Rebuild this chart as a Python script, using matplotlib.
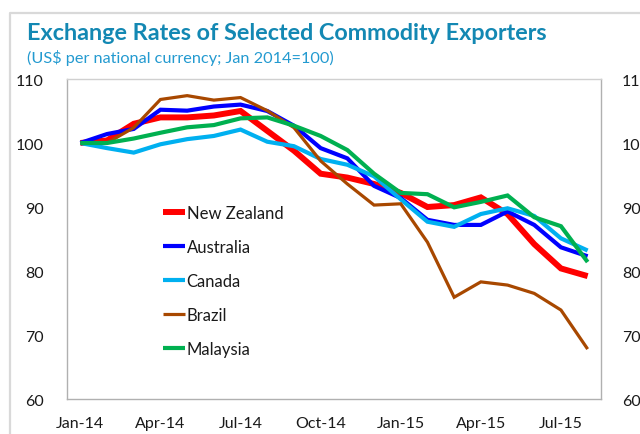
import matplotlib
matplotlib.use("Agg")
import matplotlib.pyplot as plt
from matplotlib.lines import Line2D

months = ["Jan-14", "Feb-14", "Mar-14", "Apr-14", "May-14", "Jun-14", "Jul-14", "Aug-14",
          "Sep-14", "Oct-14", "Nov-14", "Dec-14", "Jan-15", "Feb-15", "Mar-15", "Apr-15",
          "May-15", "Jun-15", "Jul-15", "Aug-15"]
new_zealand = [100, 100.4, 103.0, 104.0, 104.0, 104.3, 105.0, 101.9, 98.8, 95.2, 94.6, 93.6,
               92.2, 90.0, 90.3, 91.5, 88.9, 84.2, 80.4, 79.2]
australia = [100, 101.4, 102.2, 105.2, 105.05, 105.7, 106.0, 105.0, 102.7, 99.2, 97.6, 93.3,
             91.4, 88.0, 87.2, 87.2, 89.3, 87.2, 83.7, 82.3]
canada = [100, 99.2, 98.5, 99.8, 100.6, 101.1, 102.1, 100.2, 99.5, 97.5, 96.6, 94.8,
          91.2, 87.7, 86.9, 88.9, 89.8, 88.6, 85.1, 83.2]
brazil = [100, 100.0, 102.4, 106.8, 107.4, 106.7, 107.1, 105.05, 102.4, 97.2, 93.6, 90.3,
          90.5, 84.5, 75.9, 78.3, 77.8, 76.5, 73.9, 67.8]
malaysia = [100, 100.0, 100.7, 101.6, 102.45, 102.8, 103.85, 104.0, 102.7, 101.1, 98.9, 95.2,
            92.2, 92.0, 89.95, 90.8, 91.8, 88.4, 87.0, 81.4]

series_names = ["New Zealand", "Australia", "Canada", "Brazil", "Malaysia"]
series_values = [new_zealand, australia, canada, brazil, malaysia]
colors = ["#ff0000", "#0000ff", "#00b0f0", "#a84800", "#00b050"]
widths = [4.3, 3.0, 3.0, 2.3, 3.0]

tick_idx = [0, 3, 6, 9, 12, 15, 18]
yticks = [60, 70, 80, 90, 100, 110]

plt.rcParams['font.family'] = ['Lato', 'DejaVu Sans']

fig = plt.figure(figsize=(6.4, 4.35), dpi=100)
ax = fig.add_axes([67/640, 35/435, (601-67)/640, 320/435])

x = list(range(len(months)))
for name, vals, c, w in zip(series_names, series_values, colors, widths):
    ax.plot(x, vals, color=c, lw=w, label=name, solid_joinstyle='miter', solid_capstyle='butt')

ax.set_xlim(-0.5, len(months) - 0.5)
ax.set_ylim(60, 110)
ax.set_yticks(yticks)
ax.set_xticks(tick_idx)
ax.set_xticklabels([months[i] for i in tick_idx])
ax.tick_params(axis='both', length=0, labelsize=11.5, colors='#1a1a1a')
ax.tick_params(axis='y', pad=17)
ax.tick_params(axis='x', pad=12)
for s in ax.spines.values():
    s.set_color('#b0b0b0')
    s.set_linewidth(1.0)
ax.spines['top'].set_color('#d0d0d0')

ax2 = ax.twinx()
ax2.set_ylim(60, 110)
ax2.set_yticks(yticks)
ax2.tick_params(axis='y', length=0, labelsize=11.5, colors='#1a1a1a', pad=15)
for s in ax2.spines.values():
    s.set_visible(False)

leg = ax.legend(loc='upper left', bbox_to_anchor=(0.167, 0.628), frameon=False,
                fontsize=12, handlelength=1.3, handletextpad=0.12, labelspacing=1.08,
                borderaxespad=0)
for t in leg.get_texts():
    t.set_color('#1a1a1a')

# outer frame
fig.add_artist(Line2D([10/640, 10/640, 1.0], [0.0, 1 - 14/435, 1 - 14/435],
                      transform=fig.transFigure, color='#d9d9d9', lw=1.6))

fig.text(27/640, 1 - 33/435, "Exchange Rates of Selected Commodity Exporters",
         fontsize=16.8, fontweight='bold', color='#1388b3', va='center', ha='left')
fig.text(27/640, 1 - 58/435, "(US$ per national currency; Jan 2014=100)",
         fontsize=11.7, color='#239ad0', va='center', ha='left')

fig.savefig("out.png", dpi=100)
